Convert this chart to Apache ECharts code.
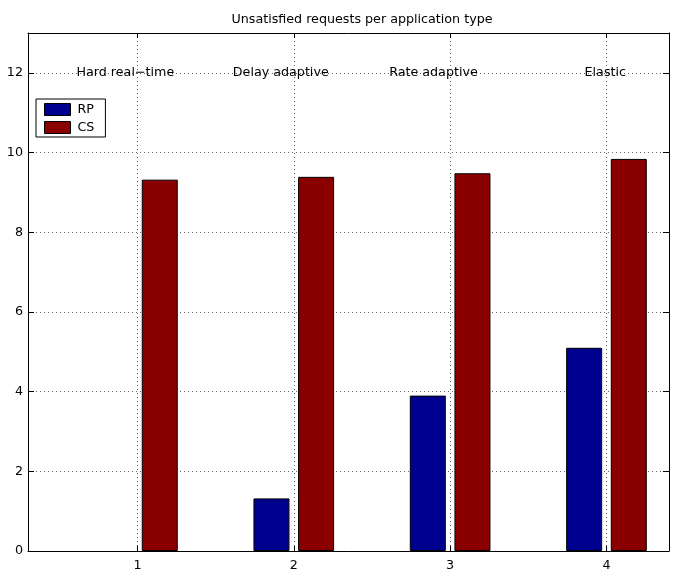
<!DOCTYPE html>
<html><head><meta charset="utf-8">
<script src="https://cdn.jsdelivr.net/npm/echarts@6/dist/echarts.min.js"></script>
<style>html,body{margin:0;padding:0;background:#fff}#c{width:680px;height:572px}</style>
</head><body><div id="c"></div>
<script>
const groups = [1, 2, 3, 4];
const rpValues = [0, 1.32, 3.9, 5.1];
const csValues = [9.32, 9.39, 9.48, 9.84];
const xTicks = [1, 2, 3, 4];
const yTicks = [0, 2, 4, 6, 8, 10, 12];
const appTypes = ['Hard real\u2212time', 'Delay adaptive', 'Rate adaptive', 'Elastic'];
const appLabelX = [0.61, 1.61, 2.61, 3.86];
const appLabelY = 12;
const seriesNames = ['RP', 'CS'];

const FONT = 'DejaVu Sans';
const FS = 12.7;
const gridLine = {show: true, lineStyle: {color: '#666', width: 1, type: [1, 3]}};

function barData(values) {
  return groups.map((g, i) => values[i] === 0
    ? {value: [g, values[i]], itemStyle: {borderWidth: 0}}
    : {value: [g, values[i]]});
}

const chart = echarts.init(document.getElementById('c'));
const xBase = {type: 'value', min: 0.3, max: 4.4, gridIndex: 0};
const yBase = {type: 'value', min: 0, max: 13, gridIndex: 0};
chart.setOption({
  animation: false,
  backgroundColor: '#fff',
  textStyle: {fontFamily: FONT},
  title: {
    text: 'Unsatisfied requests per application type',
    left: 357, top: 8, textAlign: 'center',
    textStyle: {fontFamily: FONT, fontSize: FS, fontWeight: 'normal', color: '#000'}
  },
  legend: {
    data: seriesNames,
    orient: 'vertical',
    left: 36, top: 99,
    padding: [4, 11, 3, 8],
    icon: 'rect',
    itemWidth: 26, itemHeight: 12, itemGap: 5,
    borderColor: '#000', borderWidth: 1, backgroundColor: '#fff', borderRadius: 0,
    itemStyle: {borderColor: '#000', borderWidth: 1},
    textStyle: {fontFamily: FONT, fontSize: FS, color: '#000', padding: [0, 0, 0, 2]}
  },
  grid: {left: 28, right: 11, top: 33, bottom: 21, containLabel: false, outerBoundsMode: 'none'},
  xAxis: [
    Object.assign({}, xBase, {
      position: 'bottom',
      axisLine: {show: true, onZero: false, lineStyle: {color: '#000', width: 1}},
      axisTick: {show: true, inside: true, length: 5, lineStyle: {color: '#000'}, customValues: xTicks},
      axisLabel: {show: true, margin: 8, color: '#000', fontFamily: FONT, fontSize: FS, customValues: xTicks},
      splitLine: gridLine
    }),
    Object.assign({}, xBase, {
      position: 'top',
      axisLine: {show: true, onZero: false, lineStyle: {color: '#000', width: 1}},
      axisTick: {show: true, inside: true, length: 5, lineStyle: {color: '#000'}, customValues: xTicks},
      axisLabel: {show: false},
      splitLine: {show: false}
    })
  ],
  yAxis: [
    Object.assign({}, yBase, {
      position: 'left',
      axisLine: {show: true, onZero: false, lineStyle: {color: '#000', width: 1}},
      axisTick: {show: true, inside: true, length: 6, lineStyle: {color: '#000'}, customValues: yTicks},
      axisLabel: {show: true, margin: 5, color: '#000', fontFamily: FONT, fontSize: FS, customValues: yTicks},
      splitLine: gridLine
    }),
    Object.assign({}, yBase, {
      position: 'right',
      axisLine: {show: true, onZero: false, lineStyle: {color: '#000', width: 1}},
      axisTick: {show: true, inside: true, length: 6, lineStyle: {color: '#000'}, customValues: yTicks},
      axisLabel: {show: false},
      splitLine: {show: false}
    })
  ],
  series: [
    {
      name: seriesNames[0], type: 'bar', xAxisIndex: 0, yAxisIndex: 0,
      barWidth: 36, barGap: '24%',
      itemStyle: {color: '#00008F', borderColor: '#000', borderWidth: 1},
      data: barData(rpValues)
    },
    {
      name: seriesNames[1], type: 'bar', xAxisIndex: 0, yAxisIndex: 0,
      barWidth: 36, barGap: '24%',
      itemStyle: {color: '#8A0000', borderColor: '#000', borderWidth: 1},
      data: barData(csValues)
    },
    {
      name: 'types', type: 'scatter', xAxisIndex: 0, yAxisIndex: 0,
      symbolSize: 0, silent: true,
      itemStyle: {opacity: 1},
      label: {show: true, position: 'right', distance: 0, formatter: p => p.name,
        color: '#000', opacity: 1, fontFamily: FONT, fontSize: FS},
      data: appTypes.map((t, i) => ({name: t, value: [appLabelX[i], appLabelY]}))
    }
  ]
});
</script></body></html>
